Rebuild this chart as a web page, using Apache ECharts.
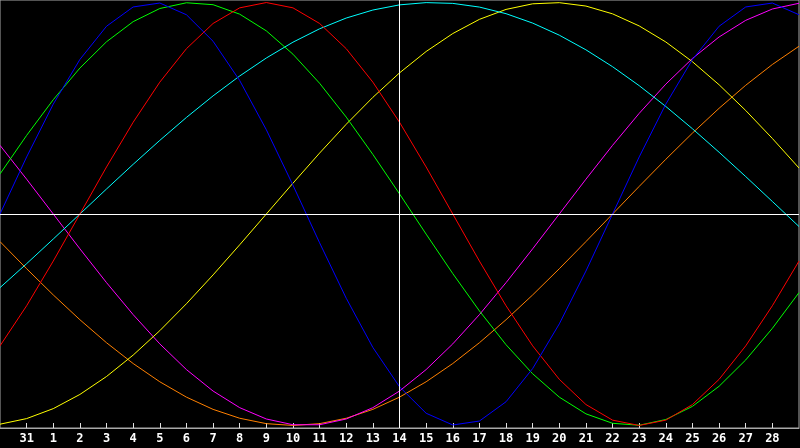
<!DOCTYPE html>
<html>
<head>
<meta charset="utf-8">
<script src="https://cdn.jsdelivr.net/npm/echarts@6/dist/echarts.min.js"></script>
<style>
html,body{margin:0;padding:0;background:#000;}
#c{width:800px;height:448px;}
</style>
</head>
<body>
<div id="c"></div>
<script>
const days = ['30','31','1','2','3','4','5','6','7','8','9','10','11','12','13','14','15','16','17','18','19','20','21','22','23','24','25','26','27','28','29'];

const blue = [0,0.2698,0.5196,0.7308,0.8879,0.9791,0.9977,0.9423,0.8170,0.6311,0.3984,0.1362,-0.1362,-0.3984,-0.6311,-0.8170,-0.9423,-0.9977,-0.9791,-0.8879,-0.7308,-0.5196,-0.2698,0,0.2698,0.5196,0.7308,0.8879,0.9791,0.9977,0.9423];
const red = [-0.6235,-0.4339,-0.2225,0,0.2225,0.4339,0.6235,0.7818,0.9010,0.9749,1,0.9749,0.9010,0.7818,0.6235,0.4339,0.2225,0,-0.2225,-0.4339,-0.6235,-0.7818,-0.9010,-0.9749,-1,-0.9749,-0.9010,-0.7818,-0.6235,-0.4339,-0.2225];
const green = [0.1893,0.3717,0.5406,0.6901,0.8146,0.9096,0.9718,0.9989,0.9898,0.9450,0.8660,0.7557,0.6182,0.4582,0.2817,0.0951,-0.0951,-0.2817,-0.4582,-0.6182,-0.7557,-0.8660,-0.9450,-0.9898,-0.9989,-0.9718,-0.9096,-0.8146,-0.6901,-0.5406,-0.3717];
const yellow = [-0.9940,-0.9675,-0.9204,-0.8533,-0.7684,-0.6672,-0.5517,-0.4244,-0.2881,-0.1456,0,0.1456,0.2881,0.4244,0.5517,0.6672,0.7684,0.8533,0.9204,0.9675,0.9940,0.9993,0.9834,0.9465,0.8894,0.8134,0.7200,0.6111,0.4894,0.3572,0.2174];
const magenta = [0.3247,0.1646,0,-0.1646,-0.3247,-0.4759,-0.6142,-0.7357,-0.8372,-0.9158,-0.9694,-0.9966,-0.9966,-0.9694,-0.9158,-0.8372,-0.7357,-0.6142,-0.4759,-0.3247,-0.1646,0,0.1646,0.3247,0.4759,0.6142,0.7357,0.8372,0.9158,0.9694,0.9966];
const orange = [-0.1305,-0.2588,-0.3827,-0.5,-0.6088,-0.7071,-0.7934,-0.8660,-0.9239,-0.9659,-0.9914,-1,-0.9914,-0.9659,-0.9239,-0.8660,-0.7934,-0.7071,-0.6088,-0.5,-0.3827,-0.2588,-0.1305,0,0.1305,0.2588,0.3827,0.5,0.6088,0.7071,0.7934];
const cyan = [-0.3482,-0.2349,-0.1183,0,0.1183,0.2349,0.3482,0.4566,0.5586,0.6527,0.7377,0.8125,0.8758,0.9267,0.9646,0.9890,0.9996,0.9960,0.9786,0.9473,0.9028,0.8456,0.7764,0.6965,0.6069,0.5085,0.4031,0.2920,0.1769,0.0592,-0.0592];
const markerDay = '14';

const chart = echarts.init(document.getElementById('c'), null, {renderer:'canvas'});
function line(name, data, color){
  return {name, type:'line', data, symbol:'none', smooth:false, animation:false,
    lineStyle:{color, width:1}, itemStyle:{color}, emphasis:{disabled:true}, silent:true};
}
const showIdx = (i) => i > 0 && i < days.length - 1;
chart.setOption({
  backgroundColor:'#000000',
  animation:false,
  grid:{left:0, right:1, top:0, height:428, show:true, borderColor:'#a8a8a8', borderWidth:1, backgroundColor:'#000000'},
  xAxis:{type:'category', data:days, boundaryGap:false,
    axisLine:{show:true, onZero:false, lineStyle:{color:'#a8a8a8', width:1}},
    axisTick:{show:true, inside:true, length:5, interval:showIdx, lineStyle:{color:'#e0e0e0'}},
    axisLabel:{show:true, interval:showIdx, color:'#ffffff', fontFamily:'DejaVu Sans Mono', fontWeight:'bold', fontSize:12, margin:5},
    splitLine:{show:false}},
  yAxis:{type:'value', min:-1.012, max:1.012, show:false, splitLine:{show:false}},
  series:[
    line('orange', orange, '#ff8000'),
    line('magenta', magenta, '#ff00ff'),
    line('yellow', yellow, '#ffff00'),
    line('cyan', cyan, '#00ffff'),
    line('green', green, '#00ff00'),
    line('red', red, '#ff0000'),
    line('blue', blue, '#0000ff'),
    {type:'line', data:[], silent:true, z:10,
      markLine:{silent:true, symbol:'none', animation:false, label:{show:false},
        lineStyle:{color:'#ffffff', type:'solid', width:1},
        data:[{yAxis:0},{xAxis:markerDay}]}}
  ]
});
</script>
</body>
</html>
